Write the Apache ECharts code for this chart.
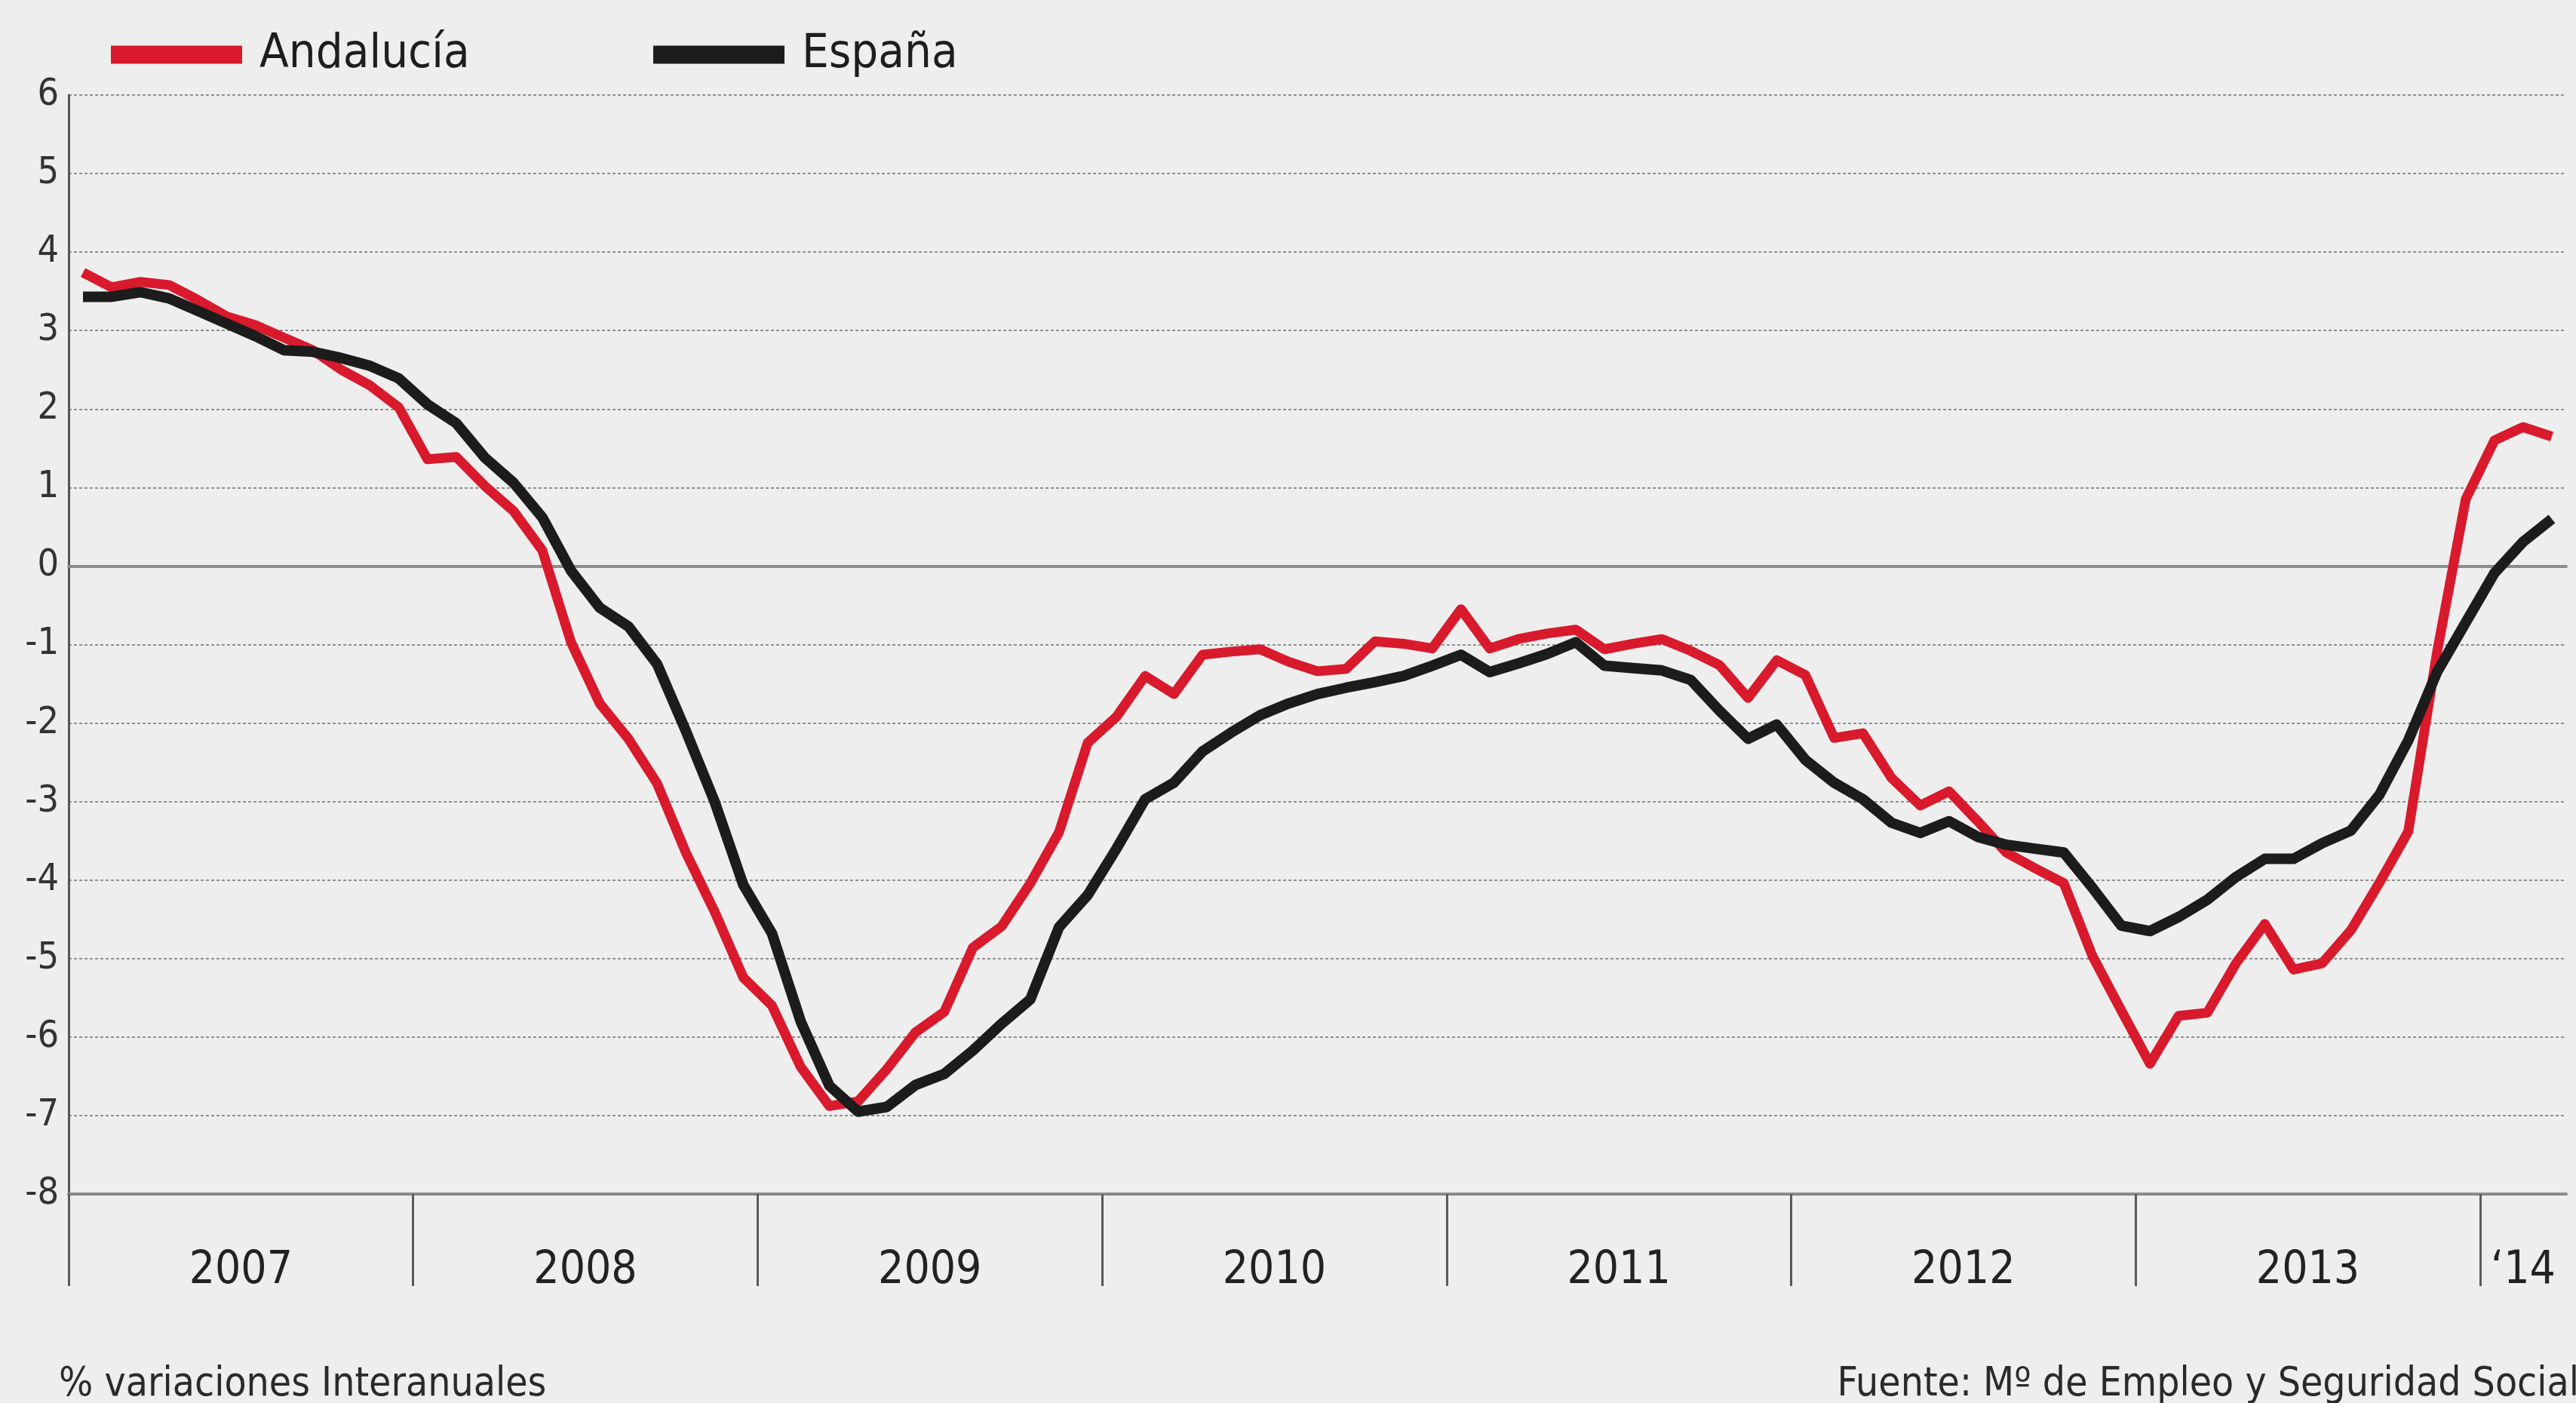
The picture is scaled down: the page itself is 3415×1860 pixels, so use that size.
<!DOCTYPE html>
<html>
<head>
<meta charset="utf-8">
<script src="https://cdn.jsdelivr.net/npm/echarts@6/dist/echarts.min.js"></script>
<style>
html,body{margin:0;padding:0;background:#eeeeee;}
#chart{width:3415px;height:1860px;}
</style>
</head>
<body>
<div id="chart"></div>
<script>
// Monthly values, Jan 2007 .. Mar 2014 (% year-on-year change)
const andalucia = [
  3.74, 3.55, 3.62, 3.58, 3.39, 3.18, 3.07, 2.91, 2.75, 2.50, 2.30, 2.02,
  1.36, 1.39, 1.02, 0.70, 0.20, -0.97, -1.75, -2.20, -2.77, -3.65, -4.40, -5.24,
  -5.60, -6.38, -6.88, -6.82, -6.41, -5.94, -5.68, -4.86, -4.59, -4.04, -3.39, -2.25,
  -1.92, -1.40, -1.63, -1.13, -1.09, -1.06, -1.22, -1.34, -1.31, -0.96, -0.99, -1.05,
  -0.55, -1.05, -0.93, -0.86, -0.81, -1.06, -0.99, -0.93, -1.08, -1.26, -1.68, -1.20,
  -1.39, -2.19, -2.13, -2.70, -3.05, -2.87, -3.25, -3.65, -3.85, -4.04, -4.97, -5.66,
  -6.34, -5.73, -5.69, -5.06, -4.56, -5.14, -5.06, -4.64, -4.03, -3.38, -1.10, 0.85,
  1.60, 1.77, 1.65
];
const espana = [
  3.43, 3.43, 3.49, 3.41, 3.25, 3.09, 2.93, 2.75, 2.73, 2.65, 2.55, 2.39,
  2.06, 1.82, 1.38, 1.06, 0.62, -0.06, -0.53, -0.77, -1.25, -2.10, -3.00, -4.06,
  -4.68, -5.80, -6.62, -6.95, -6.89, -6.61, -6.47, -6.17, -5.83, -5.52, -4.60, -4.19,
  -3.60, -2.97, -2.76, -2.36, -2.12, -1.90, -1.75, -1.63, -1.55, -1.48, -1.40, -1.27,
  -1.13, -1.35, -1.24, -1.12, -0.97, -1.27, -1.30, -1.33, -1.45, -1.84, -2.20, -2.02,
  -2.47, -2.76, -2.97, -3.27, -3.40, -3.25, -3.45, -3.55, -3.60, -3.65, -4.10, -4.58,
  -4.65, -4.47, -4.25, -3.96, -3.73, -3.73, -3.53, -3.37, -2.91, -2.22, -1.35, -0.72,
  -0.09, 0.31, 0.60
];
const yearLabels = ['2007', '2008', '2009', '2010', '2011', '2012', '2013', '\u201814'];
const seriesNames = ['Andaluc\u00eda', 'Espa\u00f1a'];
const sourceText = 'Fuente: M\u00ba de Empleo y Seguridad Social';
const unitText = '% variaciones Interanuales';

const FONT = '"Liberation Sans Narrow", "DejaVu Sans Condensed", Roboto, sans-serif';
const nMonths = andalucia.length;             // 87 months
const yearStarts = yearLabels.map((_, k) => 12 * k);
const yearCentres = yearLabels.map((_, k) => {
  const a = 12 * k, b = Math.min(12 * (k + 1), nMonths);
  return (a + b) / 2;
});
const toPoints = arr => arr.map((v, i) => [i + 0.5, v]);

const chart = echarts.init(document.getElementById('chart'), null, {renderer: 'canvas'});
chart.setOption({
  backgroundColor: '#eeeeee',
  animation: false,
  textStyle: {fontFamily: FONT},
  title: [
    {text: unitText, left: 78, top: 1810, padding: 0,
     textStyle: {fontFamily: FONT, fontSize: 53, fontWeight: 'normal', color: '#2a2a2a'}},
    {text: sourceText, right: -4, top: 1810, padding: 0,
     textStyle: {fontFamily: FONT, fontSize: 53, fontWeight: 'normal', color: '#2a2a2a'}}
  ],
  legend: [
    {data: [seriesNames[0]], left: 147, top: 41, padding: 0, icon: 'rect',
     itemWidth: 174, itemHeight: 24,
     textStyle: {fontFamily: FONT, fontSize: 63, color: '#1e1e1e', padding: [0, 0, 0, 18]}},
    {data: [seriesNames[1]], left: 866, top: 41, padding: 0, icon: 'rect',
     itemWidth: 174, itemHeight: 24,
     textStyle: {fontFamily: FONT, fontSize: 63, color: '#1e1e1e', padding: [0, 0, 0, 18]}}
  ],
  grid: {left: 91, right: 13, top: 126, bottom: 277, containLabel: false, outerBoundsMode: 'none'},
  xAxis: [
    {
      type: 'value', min: 0, max: nMonths,
      axisLine: {show: true, onZero: false, lineStyle: {color: '#8a8a8a', width: 4}},
      axisTick: {show: true, customValues: yearStarts, length: 122,
                 lineStyle: {color: '#5a5a5a', width: 3}},
      axisLabel: {show: true, customValues: yearCentres, margin: 72,
                  fontFamily: FONT, fontSize: 60, color: '#222',
                  formatter: v => {
                    const k = yearCentres.findIndex(c => Math.abs(c - v) < 1e-6);
                    return k >= 0 ? yearLabels[k] : '';
                  }},
      splitLine: {show: false}
    },
    {
      type: 'value', min: 0, max: nMonths,
      axisLine: {show: true, onZero: true, lineStyle: {color: '#8c8c8c', width: 4}},
      axisTick: {show: false}, axisLabel: {show: false}, splitLine: {show: false}
    }
  ],
  yAxis: {
    type: 'value', min: -8, max: 6, interval: 1,
    axisLine: {show: true, onZero: false, lineStyle: {color: '#555', width: 3}},
    axisTick: {show: false},
    axisLabel: {fontFamily: FONT, fontSize: 50, color: '#333', margin: 13},
    splitLine: {show: true, lineStyle: {color: '#8f8f8f', width: 2, type: [4, 3]}}
  },
  series: [
    {name: seriesNames[0], type: 'line', xAxisIndex: 0, data: toPoints(andalucia),
     symbol: 'none', smooth: false, z: 3, color: '#d81a2c',
     lineStyle: {color: '#d81a2c', width: 13, join: 'round'}},
    {name: seriesNames[1], type: 'line', xAxisIndex: 0, data: toPoints(espana),
     symbol: 'none', smooth: false, z: 4, color: '#1c1c1c',
     lineStyle: {color: '#1c1c1c', width: 14, join: 'round'}}
  ]
});
</script>
</body>
</html>
